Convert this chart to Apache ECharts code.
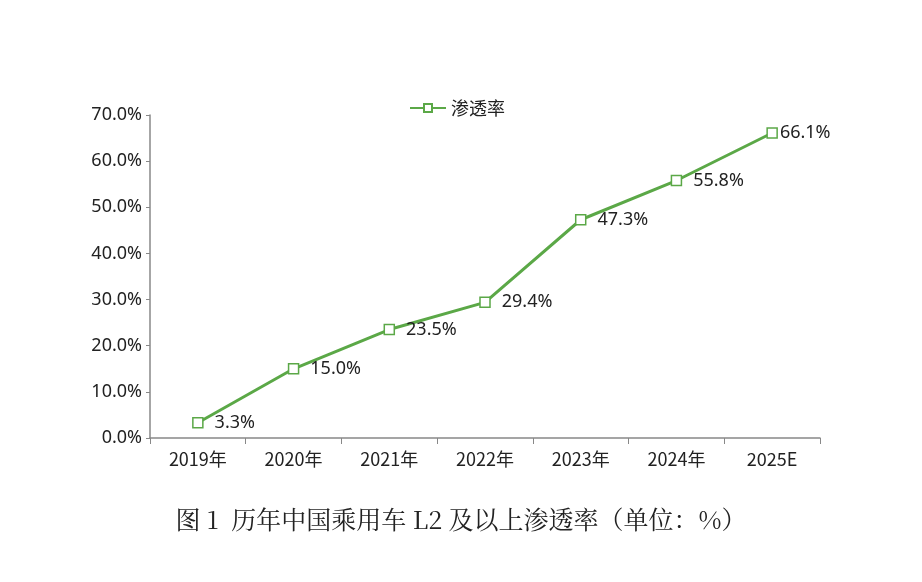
<!DOCTYPE html>
<html><head><meta charset="utf-8">
<script src="https://cdn.jsdelivr.net/npm/echarts@6/dist/echarts.min.js"></script>
<style>html,body{margin:0;padding:0;background:#fff}#c{width:922px;height:582px}</style>
</head><body><div id="c"></div>
<script>
const categories = ['2019年','2020年','2021年','2022年','2023年','2024年','2025E'];
const rates = [3.3, 15.0, 23.5, 29.4, 47.3, 55.8, 66.1];
const seriesName = '渗透率';
const captionText = '图 1  历年中国乘用车 L2 及以上渗透率（单位：%）';

const chart = echarts.init(document.getElementById('c'));
chart.setOption({
  backgroundColor: '#fff',
  animation: false,
  title: {
    text: captionText,
    left: 'center', top: 502,
    textStyle: { fontFamily: '"Noto Serif CJK SC","Noto Sans CJK SC",serif', fontSize: 25, fontWeight: 'normal', color: '#222' }
  },
  legend: {
    data: [seriesName], top: 94, left: 404,
    itemWidth: 36, itemHeight: 10, itemGap: 6,
    textStyle: { fontFamily: '"Noto Sans CJK SC",sans-serif', fontSize: 18, color: '#222' }
  },
  grid: { left: 150, right: 102, top: 115, bottom: 144 },
  xAxis: {
    type: 'category', data: categories, boundaryGap: true,
    axisLine: { lineStyle: { color: '#888', width: 1.5 } },
    axisTick: { show: true, length: 6, lineStyle: { color: '#888' } },
    axisLabel: { fontFamily: '"Noto Sans CJK SC",sans-serif', fontSize: 18, color: '#222', margin: 12 }
  },
  yAxis: {
    type: 'value', min: 0, max: 70, interval: 10,
    splitLine: { show: false },
    axisLine: { show: true, lineStyle: { color: '#888', width: 1.5 } },
    axisTick: { show: true, length: 4, lineStyle: { color: '#888' } },
    axisLabel: { fontFamily: '"Noto Sans","Open Sans",sans-serif', fontSize: 18, color: '#222', margin: 8,
      formatter: v => v.toFixed(1) + '%' }
  },
  series: [{
    name: seriesName, type: 'line',
    data: rates.map((v, i) => i === rates.length - 1 ? { value: v, label: { distance: 2 } } : v),
    lineStyle: { color: '#5ba847', width: 3 },
    itemStyle: { color: '#fff', borderColor: '#5ba847', borderWidth: 1.5 },
    symbol: 'rect', symbolSize: 10, showAllSymbol: true,
    label: { show: true, position: 'right', distance: 11,
      fontFamily: '"Noto Sans","Open Sans",sans-serif', fontSize: 18, color: '#222',
      formatter: p => p.value.toFixed(1) + '%' }
  }]
});
</script></body></html>
